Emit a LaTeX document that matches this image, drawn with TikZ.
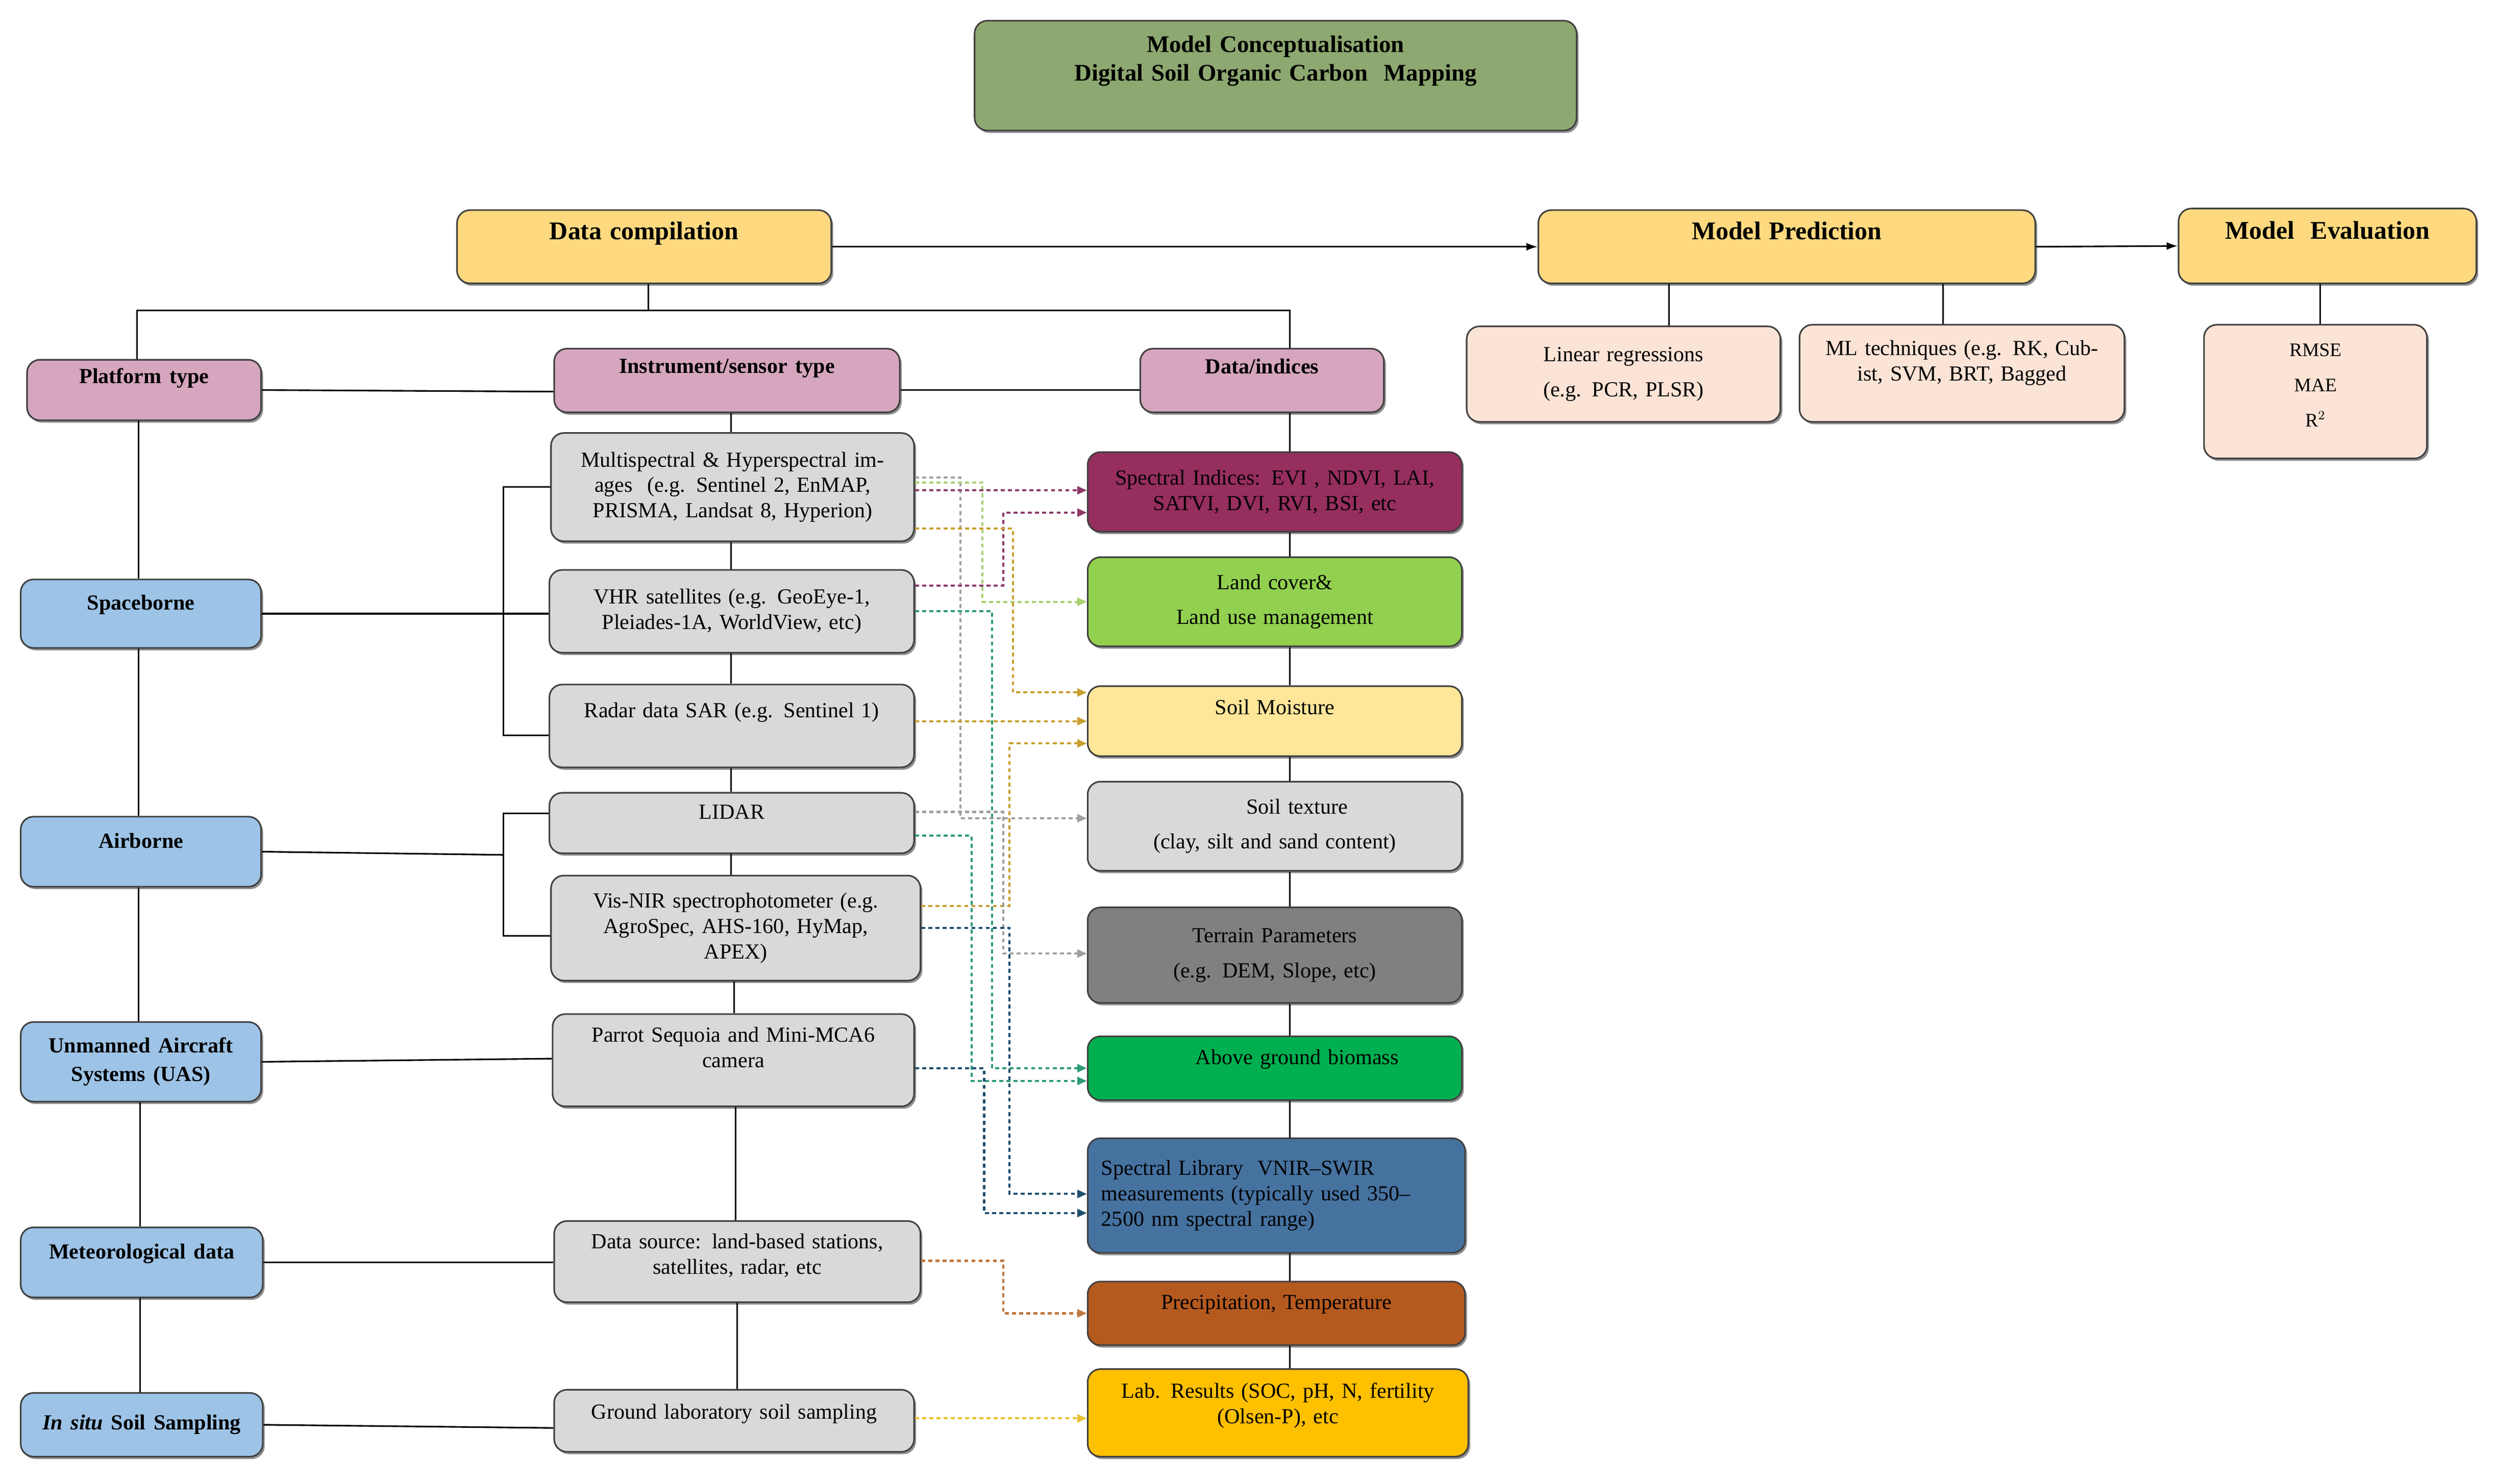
\documentclass[tikz,border=0pt]{standalone}
\usepackage{fontspec}
\setmainfont{Liberation Serif}
\usetikzlibrary{arrows.meta,shadows}
\definecolor{cTitle}{HTML}{8DA870}
\definecolor{cOr}{HTML}{FFD97F}
\definecolor{cPink}{HTML}{D5A6BD}
\definecolor{cBlue}{HTML}{9DC3E6}
\definecolor{cGray}{HTML}{D9D9D9}
\definecolor{cPeach}{HTML}{FBE3D6}
\definecolor{cSI}{HTML}{962E5E}
\definecolor{cLC}{HTML}{92D050}
\definecolor{cSM}{HTML}{FFE699}
\definecolor{cTer}{HTML}{808080}
\definecolor{cBio}{HTML}{00B050}
\definecolor{cLib}{HTML}{4672A0}
\definecolor{cPre}{HTML}{B55A1F}
\definecolor{cLab}{HTML}{FFC000}
\definecolor{dGray}{HTML}{A0A0A0}
\definecolor{dLG}{HTML}{A8D070}
\definecolor{dPur}{HTML}{8E3A68}
\definecolor{dGold}{HTML}{C8A030}
\definecolor{dTeal}{HTML}{2E9A78}
\definecolor{dNavy}{HTML}{1F4E6E}
\definecolor{dBrown}{HTML}{C07840}
\definecolor{dYel}{HTML}{E8C030}
\newcommand{\lift}[1]{\\[#1]\mbox{}}
\tikzset{
 bx/.style={rounded corners=8pt,draw=black!75,line width=1pt,align=center,inner sep=2pt,
   drop shadow={shadow xshift=1.2pt,shadow yshift=-1.5pt,fill=black!55,opacity=0.8},
   font=\fontsize{13.5}{16}\selectfont},
 hd/.style={bx,font=\fontsize{15}{18}\selectfont\bfseries},
 ln/.style={line width=1pt,black},
 arr/.style={ln,-{Latex[length=7pt,width=5pt]}},
 dt/.style={line width=1.3pt,dash pattern=on 2.5pt off 2pt,-{Triangle[length=6pt,width=5pt]}},
}
\newcommand{\bx}[8]{\node[#2,fill=#3,minimum width=#6-#4,minimum height=#7-#5,text width=#6-#4-8] (#1) at ({(#4+#6)/2},{(#5+#7)/2}) {#8};}
\begin{document}
\begin{tikzpicture}[x=1pt,y=-1pt]
\useasboundingbox (0,0) rectangle (1568,932);
% title
\bx{title}{hd}{cTitle}{612}{13}{990}{82}{Model Conceptualisation\\ Digital Soil Organic Carbon\ \ Mapping\lift{4pt}}
\bx{dc}{hd}{cOr}{287}{132}{522}{178}{\fontsize{16}{18}\selectfont Data compilation\lift{2pt}}
\bx{mp}{hd}{cOr}{966}{132}{1278}{178}{\fontsize{16}{18}\selectfont Model Prediction\lift{2pt}}
\bx{me}{hd}{cOr}{1368}{131}{1555}{178}{\fontsize{16}{18}\selectfont Model\ \ Evaluation\lift{2pt}}
\bx{lr}{bx}{cPeach}{921}{205}{1118}{265}{Linear regressions\\[6pt] (e.g. PCR, PLSR)}
\bx{ml}{bx}{cPeach}{1130}{204}{1334}{265}{ML techniques (e.g. RK, Cub-\\ ist, SVM, BRT, Bagged\lift{0pt}}
\bx{ev}{bx}{cPeach}{1384}{204}{1524}{288}{\fontsize{12}{22}\selectfont RMSE\\ MAE\\ R$^2$\lift{-8pt}}
% headers
\bx{pt}{hd}{cPink}{17}{226}{164}{264}{\fontsize{13.5}{16}\selectfont Platform type\lift{0pt}}
\bx{is}{hd}{cPink}{348}{219}{565}{259}{\fontsize{13.5}{16}\selectfont Instrument/sensor type\lift{0pt}}
\bx{di}{hd}{cPink}{716}{219}{869}{259}{\fontsize{13.5}{16}\selectfont Data/indices\lift{0pt}}
% platforms
\bx{sb}{hd}{cBlue}{13}{364}{164}{407}{\fontsize{13.5}{16}\selectfont Spaceborne\lift{-4pt}}
\bx{ab}{hd}{cBlue}{13}{513}{164}{557}{\fontsize{13.5}{16}\selectfont Airborne\lift{-4pt}}
\bx{uas}{hd}{cBlue}{13}{642}{164}{692}{\fontsize{13.5}{16}\selectfont Unmanned Aircraft\\ Systems (UAS)}
\bx{met}{hd}{cBlue}{13}{771}{165}{815}{\fontsize{13.5}{16}\selectfont Meteorological data\lift{-4pt}}
\bx{ins}{hd}{cBlue}{13}{875}{165}{915}{\fontsize{13.5}{16}\selectfont\textit{In situ} Soil Sampling}
% instruments
\bx{ms}{bx}{cGray}{346}{272}{574}{340}{Multispectral \& Hyperspectral im-\\ ages\ \ (e.g. Sentinel 2, EnMAP,\\ PRISMA, Landsat 8, Hyperion)}
\bx{vhr}{bx}{cGray}{345}{358}{574}{410}{VHR satellites (e.g. GeoEye-1,\\ Pleiades-1A, WorldView, etc)}
\bx{rad}{bx}{cGray}{345}{430}{574}{482}{Radar data SAR (e.g. Sentinel 1)\lift{4pt}}
\bx{lid}{bx}{cGray}{345}{498}{574}{536}{LIDAR\lift{-2pt}}
\bx{vis}{bx}{cGray}{346}{550}{578}{616}{Vis-NIR spectrophotometer (e.g.\\ AgroSpec, AHS-160, HyMap,\\ APEX)}
\bx{par}{bx}{cGray}{347}{637}{574}{695}{Parrot Sequoia and Mini-MCA6\\ camera\lift{0pt}}
\bx{ds}{bx}{cGray}{348}{767}{578}{818}{Data source: land-based stations,\\ satellites, radar, etc\lift{-6pt}}
\bx{gl}{bx}{cGray}{348}{873}{574}{912}{Ground laboratory soil sampling\lift{-4pt}}
% data
\bx{si}{bx}{cSI}{683}{284}{918}{334}{Spectral Indices: EVI , NDVI, LAI,\\ SATVI, DVI, RVI, BSI, etc}
\bx{lc}{bx}{cLC}{683}{350}{918}{406}{Land cover\&\\[6pt] Land use management}
\bx{sm}{bx}{cSM}{683}{431}{918}{475}{Soil Moisture\lift{2pt}}
\bx{st}{bx}{cGray}{683}{491}{918}{547}{\hspace*{28pt}Soil texture\\[6pt] (clay, silt and sand content)}
\bx{tp}{bx}{cTer}{683}{570}{918}{630}{Terrain Parameters\\[6pt] (e.g. DEM, Slope, etc)}
\bx{bio}{bx}{cBio}{683}{651}{918}{691}{\hspace*{28pt}Above ground biomass\lift{-2pt}}
\node[bx,fill=cLib,minimum width=237,minimum height=72,text width=220,align=left] (lib) at (801.5,751) {Spectral Library\ \ VNIR–SWIR\\ measurements (typically used 350–\\ 2500 nm spectral range)};
\bx{pre}{bx}{cPre}{683}{805}{920}{845}{Precipitation, Temperature\lift{-2pt}}
\bx{lab}{bx}{cLab}{683}{860}{922}{915}{Lab. Results (SOC, pH, N, fertility\\ (Olsen-P), etc\lift{-4pt}}
% top arrows
\draw[arr] (dc.east) -- (mp.west);
\draw[arr] (mp.east) -- (me.west);
\draw[ln] (mp.south -| 1048,0) -- (lr.north -| 1048,0);
\draw[ln] (mp.south -| 1220,0) -- (ml.north -| 1220,0);
\draw[ln] (me.south -| 1457,0) -- (ev.north -| 1457,0);
% tree
\coordinate (tj) at (407,195);
\draw[ln] (dc.south -| tj) -- (tj);
\draw[ln] (pt.north -| 86,0) |- (tj) -| (di.north -| 810,0);
\draw[ln] (pt.east) -- (is.west |- 0,246);
\draw[ln] (is.east |- 0,245) -- (di.west |- 0,245);
% left column
\draw[ln] (pt.south -| 87,0) -- (sb.north -| 87,0);
\draw[ln] (sb.south -| 87,0) -- (ab.north -| 87,0);
\draw[ln] (ab.south -| 87,0) -- (uas.north -| 87,0);
\draw[ln] (uas.south -| 88,0) -- (met.north -| 88,0);
\draw[ln] (met.south -| 88,0) -- (ins.north -| 88,0);
\draw[ln] (sb.east) -- (vhr.west |- sb.east);
\draw[ln] (ms.west |- 0,306) -| (316,462) -- (rad.west |- 0,462);
\draw[ln] (ab.east) -- (316,537);
\draw[ln] (lid.west |- 0,511) -| (316,588) -- (vis.west |- 0,588);
\draw[ln] (uas.east) -- (par.west |- 0,665);
\draw[ln] (met.east) -- (ds.west |- 0,793);
\draw[ln] (ins.east) -- (gl.west |- 0,897);
% middle column
\draw[ln] (is.south -| 459,0) -- (ms.north -| 459,0);
\draw[ln] (ms.south -| 459,0) -- (vhr.north -| 459,0);
\draw[ln] (vhr.south -| 459,0) -- (rad.north -| 459,0);
\draw[ln] (rad.south -| 459,0) -- (lid.north -| 459,0);
\draw[ln] (lid.south -| 459,0) -- (vis.north -| 459,0);
\draw[ln] (vis.south -| 461,0) -- (par.north -| 461,0);
\draw[ln] (par.south -| 462,0) -- (ds.north -| 462,0);
\draw[ln] (ds.south -| 463,0) -- (gl.north -| 463,0);
% right column
\foreach \a/\b in {di/si,si/lc,lc/sm,sm/st,st/tp,tp/bio,bio/lib,lib/pre,pre/lab}
  \draw[ln] (\a.south -| 810,0) -- (\b.north -| 810,0);
% dotted connectors
\draw[dt,dGray] (ms.east |- 0,300) -- (603,300) -- (603,514) -- (st.west |- 0,514);
\draw[dt,dLG] (ms.east |- 0,303) -- (617,303) -- (617,378) -- (lc.west |- 0,378);
\draw[dt,dPur] (ms.east |- 0,308) -- (si.west |- 0,308);
\draw[dt,dPur] (vhr.east |- 0,368) -- (630,368) -- (630,322) -- (si.west |- 0,322);
\draw[dt,dGold] (ms.east |- 0,332) -- (636,332) -- (636,435) -- (sm.west |- 0,435);
\draw[dt,dTeal] (vhr.east |- 0,384) -- (623,384) -- (623,671) -- (bio.west |- 0,671);
\draw[dt,dGold] (rad.east |- 0,453) -- (sm.west |- 0,453);
\draw[dt,dGold] (vis.east |- 0,569) -- (634,569) -- (634,467) -- (sm.west |- 0,467);
\draw[dt,dGray] (lid.east |- 0,510) -- (630,510) -- (630,599) -- (tp.west |- 0,599);
\draw[dt,dTeal] (lid.east |- 0,525) -- (610,525) -- (610,679) -- (bio.west |- 0,679);
\draw[dt,dNavy] (vis.east |- 0,583) -- (634,583) -- (634,750) -- (lib.west |- 0,750);
\draw[dt,dNavy] (par.east |- 0,671) -- (618,671) -- (618,762) -- (lib.west |- 0,762);
\draw[dt,dBrown] (ds.east |- 0,792) -- (630,792) -- (630,825) -- (pre.west |- 0,825);
\draw[dt,dYel] (gl.east |- 0,891) -- (lab.west |- 0,891);
\end{tikzpicture}
\end{document}
